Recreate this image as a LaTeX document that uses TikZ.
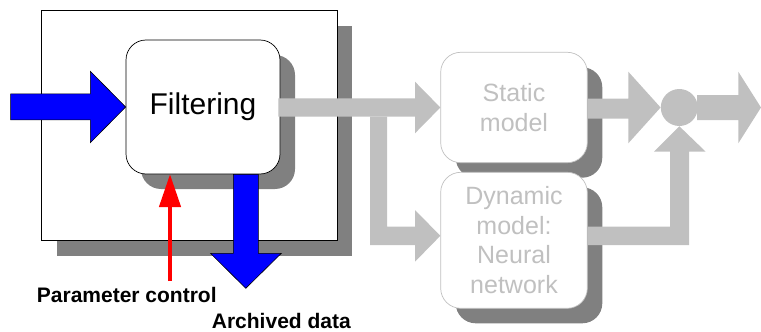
\documentclass[tikz,border=0pt]{standalone}
\usepackage{fontspec}
\setmainfont{Liberation Sans}
\usetikzlibrary{calc,shadows,arrows.meta}
\definecolor{shade}{HTML}{808080}
\definecolor{pale}{HTML}{C0C0C0}
\definecolor{flowblue}{HTML}{0000FF}
\tikzset{
  castshadow/.style={drop shadow={shadow xshift=15pt,shadow yshift=-15pt,fill=shade,opacity=1}},
  frame/.style={draw=black,line width=0.8pt,fill=white,castshadow,inner sep=0pt},
  stagebox/.style={rounded corners=20pt,fill=white,castshadow,inner sep=0pt,align=center},
  activebox/.style={stagebox,draw=black,line width=0.7pt,font=\fontsize{30}{34}\selectfont},
  idlebox/.style={stagebox,draw=pale,line width=0.7pt,text=pale,font=\fontsize{25}{29.5}\selectfont},
  bluearrow/.style={fill=flowblue,draw=black,line width=0.6pt,line join=miter},
  grayarrow/.style={fill=pale},
  label/.style={font=\bfseries\fontsize{21}{24}\selectfont,anchor=base west,inner sep=0pt,text depth=0pt},
}
\begin{document}
\begin{tikzpicture}[x=1pt,y=-1pt]
\useasboundingbox (0,0) rectangle (761,332);

% filtering stage with its enclosing frame
\node[frame,minimum width=295.6pt,minimum height=230pt] (frm) at (189.5,125.7) {};
\node[activebox,minimum width=154pt,minimum height=134pt] (filt) at (203,107) {Filtering};

% model stages
\node[idlebox,minimum width=146.6pt,minimum height=110.4pt] (stat) at (514,107.5) {Static\\model};
\node[idlebox,minimum width=146.6pt,minimum height=136pt] (dyn) at (514,240.3) {Dynamic\\model:\\Neural\\network};

% summing junction
\node[circle,fill=pale,minimum size=37pt,inner sep=0pt] (sum) at (679.3,107.5) {};
\coordinate (out) at (761,107.5);

% labels
\node[label] (pc) at (36.7,302.7) {Parameter control};
\node[label] (arch) at (211.7,328.8) {Archived data};
\coordinate (pcfoot) at (170,281);
\coordinate (archtip) at (245.8,288.3);

% gray data paths
\fill[grayarrow] ($(filt.east)+(-2,-8.7)$) -- (415,98.3) -- (415,81.7) -- (stat.west)
  -- (415,133.3) -- (415,116.7) -- ($(filt.east)+(-2,9.7)$) -- cycle;
\fill[grayarrow] (370,116.7) -- (370,245) -- (415,245) -- (415,261.7) -- ($(dyn.west)+(0,-4.5)$)
  -- (415,210) -- (415,226.7) -- (387,226.7) -- (387,116.7) -- cycle;
\fill[grayarrow] ($(stat.east)+(0,-9)$) -- (628.3,98.5) -- (628.3,71.7) -- (sum.west)
  -- (628.3,143.3) -- (628.3,118.5) -- ($(stat.east)+(0,11)$) -- cycle;
\fill[grayarrow] ($(sum.east)+(-1,-12.5)$) -- (738.3,95) -- (738.3,71.7) -- (out)
  -- (738.3,143.3) -- (738.3,120) -- ($(sum.east)+(-1,12.5)$) -- cycle;
\fill[grayarrow] ($(dyn.east)+(0,-13.6)$) -- (670,226.7) -- (670,151.7) -- (654,151.7) -- (sum.south)
  -- (705.7,151.7) -- (689,151.7) -- (689,245) -- ($(dyn.east)+(0,4.7)$) -- cycle;

% blue input and archive arrows
\draw[bluearrow] (filt.west) -- ++(-35.3,-35.7) -- ++(0,22.6) -- ++(-79.7,0) -- ++(0,26)
  -- ++(79.7,0) -- ++(0,22.8) -- cycle;
\draw[bluearrow] (archtip) -- ++(-35.3,-35) -- ++(22.8,0) -- (233.3,0 |- filt.south)
  -- (258.3,0 |- filt.south) -- (258.3,253.3) -- (281.3,253.3) -- cycle;

% parameter control
\draw[red,line width=3.2pt,-{Triangle[width=21.4pt,length=32.7pt]}] (pcfoot) -- (pcfoot |- filt.south);
\end{tikzpicture}
\end{document}
